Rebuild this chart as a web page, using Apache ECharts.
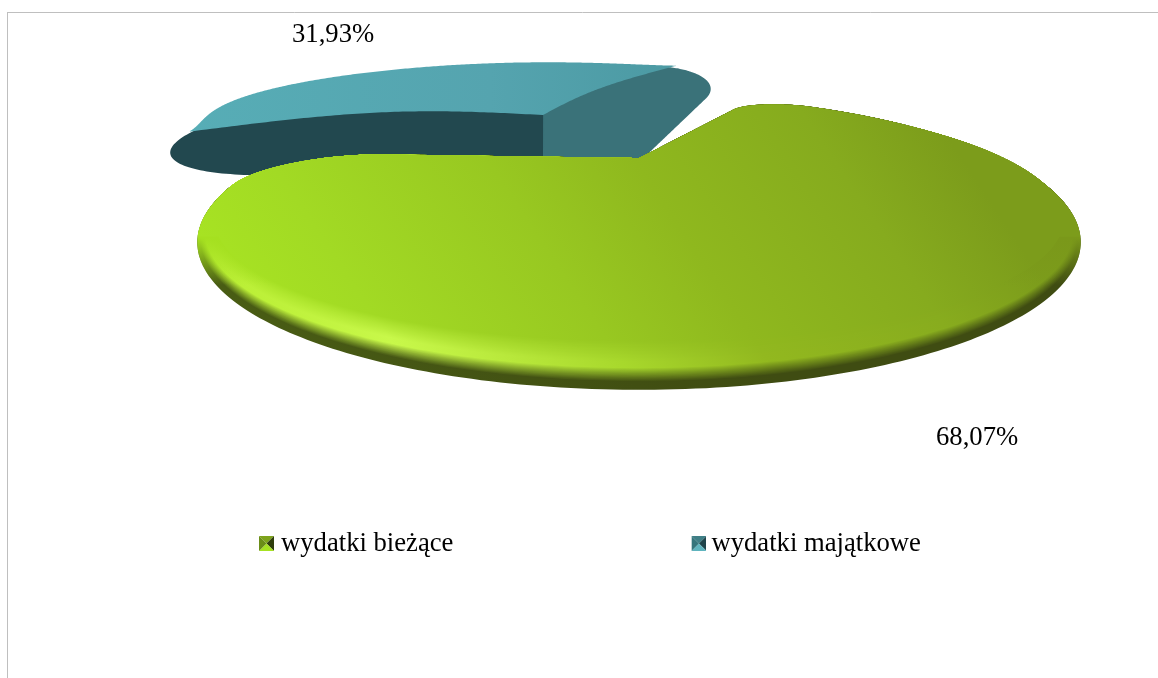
<!DOCTYPE html>
<html><head><meta charset="utf-8">
<style>html,body{margin:0;padding:0;background:#fff}#c{width:1158px;height:678px}</style>
<script src="https://cdn.jsdelivr.net/npm/echarts@6/dist/echarts.min.js"></script>
</head><body><div id="c"></div>
<script>
const categories = ['wydatki bieżące', 'wydatki majątkowe'];
const values = [68.07, 31.93];

const total = values[0] + values[1];
const firstAngle = -62;
const greenA0 = firstAngle, greenA1 = firstAngle + 360 * values[0] / total;
const blueA0 = greenA1, blueA1 = firstAngle + 360;
const rad = d => d * Math.PI / 180;
const fontFamily = '"Liberation Serif","Times New Roman",serif';

// rounded sector in the disc plane, unit radius; angles grow clockwise on screen
function outline(a0, a1, o) {
  const pts = [], r0 = o.fillet0, r1 = o.fillet1;
  const d0 = Math.sqrt((1 - r0) * (1 - r0) - r0 * r0), off0 = Math.asin(r0 / (1 - r0));
  const d1 = Math.sqrt((1 - r1) * (1 - r1) - r1 * r1), off1 = Math.asin(r1 / (1 - r1));
  const A0 = rad(a0), A1 = rad(a1), n = 80;
  pts.push([0, 0]);
  for (let i = 1; i <= n; i++) {
    const s = i / n, l = d0 * s, b = (o.bulge0 || 0) * Math.sin(Math.PI * s);
    pts.push([l * Math.cos(A0) + b * Math.cos(A0 - Math.PI / 2), l * Math.sin(A0) + b * Math.sin(A0 - Math.PI / 2)]);
  }
  const c0 = A0 + off0, c1 = A1 - off1;
  for (let i = 1; i <= n; i++) {
    const t = A0 - Math.PI / 2 + (off0 + Math.PI / 2) * i / n;
    pts.push([(1 - r0) * Math.cos(c0) + r0 * Math.cos(t), (1 - r0) * Math.sin(c0) + r0 * Math.sin(t)]);
  }
  const m = 300;
  for (let i = 1; i < m; i++) {
    const s = i / m, t = c0 + (c1 - c0) * s, q = Math.sin(Math.PI * s), R = 1 + (o.bump || 0) * Math.pow(q, 1.6);
    pts.push([R * Math.cos(t), R * Math.sin(t)]);
  }
  for (let i = 0; i <= n; i++) {
    const t = c1 + (off1 + Math.PI / 2) * i / n;
    pts.push([(1 - r1) * Math.cos(c1) + r1 * Math.cos(t), (1 - r1) * Math.sin(c1) + r1 * Math.sin(t)]);
  }
  for (let i = n - 1; i >= 1; i--) {
    const s = i / n, l = d1 * s, b = (o.bulge1 || 0) * Math.sin(Math.PI * s);
    pts.push([l * Math.cos(A1) + b * Math.cos(A1 + Math.PI / 2), l * Math.sin(A1) + b * Math.sin(A1 + Math.PI / 2)]);
  }
  return pts;
}
function project(pts, P) {
  return pts.map(([X, Y]) => {
    const w = 1 - P.k * Y;
    return [P.cx + P.A * X / w, P.cy + (P.B * Y + (P.S || 0) * X) / w];
  });
}
function lerpHex(a, b, t) {
  const pa = parseInt(a.slice(1), 16), pb = parseInt(b.slice(1), 16);
  const ch = s => Math.round(((pa >> s) & 255) * (1 - t) + ((pb >> s) & 255) * t);
  return 'rgb(' + ch(16) + ',' + ch(8) + ',' + ch(0) + ')';
}
const G = echarts.graphic.LinearGradient;
const stops = [0, .2, .45, .62, .85, 1];
const base = ['#a9e622', '#a2da24', '#98c821', '#8fb81e', '#86ab1e', '#7c9c1b'];
const high = ['#b4ea2c', '#c8f84a', '#a8d82c', '#92b81f', '#88ac1e', '#7c9c1b'];
const dark = ['#4a5e14', '#455614', '#414f12', '#3f4c12', '#3f4c12', '#3f4c12'];
const rimMax = 48;
function rimColor(i, dy) {
  if (dy >= 41) return dark[i];
  if (dy >= 28) return lerpHex(high[i], dark[i], (dy - 28) / 13);
  if (dy >= 22) return high[i];
  return lerpHex(base[i], high[i], dy / 22);
}
function gradFor(colorAt) {
  return new G(230, 360, 830, -40, stops.map((o, i) => ({ offset: o, color: colorAt(i) })), true);
}
const greenFace = { cx: 639, cy: 158, A: 365, B: 90, k: .51 };
const greenEdge = { cx: 639, cy: 158, A: 362, B: 99, k: .573 };
const blueTop = { cx: 543, cy: 115, A: 360, B: 60, S: -20, k: .3 };
const blueWallLeft = { cx: 543, cy: 157, A: 518, B: 130, S: -44, k: .4 };
const blueWallRight = { cx: 543, cy: 157, A: 480, B: 106, S: -52, k: .4 };
const blueLobe = { cx: 610, cy: 190, A: 360, B: 172, S: -20, k: .4 };

function poly(points, fill, z2) {
  return { type: 'polygon', shape: { points }, style: { fill, stroke: null }, z2 };
}
function label(val, x, y) {
  return { type: 'text', x, y, z2: 90, style: { text: val.toFixed(2).replace('.', ',') + '%', font: '26.67px ' + fontFamily, fill: '#000', textAlign: 'left', textVerticalAlign: 'middle' } };
}
function fadeFill(rgb) {
  return new G(0, 238, 0, 285, [{ offset: 0, color: 'rgba(' + rgb + ',1)' }, { offset: 1, color: 'rgba(' + rgb + ',0)' }], true);
}
function renderGreen(params, api) {
  const val = api.value(0), kids = [];
  const pts = outline(greenA0, greenA1, { fillet0: .2, fillet1: .24 });
  for (let dy = rimMax; dy >= 1; dy--) {
    const t = dy / rimMax, P = { cx: greenFace.cx, cy: greenFace.cy };
    ['A', 'B', 'k'].forEach(p => { P[p] = greenFace[p] * (1 - t) + greenEdge[p] * t; });
    kids.push(poly(project(pts, P), gradFor(i => rimColor(i, dy)), 20 + (rimMax - dy)));
  }
  const edge = project(pts, greenEdge);
  kids.push(poly(edge.filter(p => p[0] < greenEdge.cx), fadeFill('165,224,32'), 75));
  kids.push(poly(edge.filter(p => p[0] >= greenEdge.cx), fadeFill('122,152,26'), 75));
  kids.push(poly(edge.filter(p => p[1] <= 238.5), gradFor(i => base[i]), 76));
  kids.push(poly(project(pts, greenFace), gradFor(i => base[i]), 80));
  kids.push(label(val, 936, 438));
  return { type: 'group', children: kids };
}
function renderBlue(params, api) {
  const val = api.value(0);
  const wallL = outline(blueA0, blueA1, { fillet0: .40, fillet1: .2 });
  const wallR = outline(blueA0, blueA1, { fillet0: .1, fillet1: .2 });
  const lobe = outline(blueA0, blueA1, { fillet0: .1, fillet1: .25 });
  const top = outline(blueA0, blueA1, { fillet0: .005, fillet1: .005, bulge0: -.18, bulge1: -.05, bump: .35 });
  const topFill = new G(190, 0, 690, 0, [
    { offset: 0, color: '#57adb6' }, { offset: .6, color: '#55a4af' }, { offset: 1, color: '#4b99a2' }], true);
  return { type: 'group', children: [
    poly(project(wallL, blueWallLeft).filter(p => p[0] <= 548), '#22484f', 1),
    poly(project(wallR, blueWallRight).filter(p => p[0] >= 543), '#3a7279', 2),
    poly(project(lobe, blueLobe).filter(p => p[0] >= 543), '#3a7279', 2),
    poly(project(top, blueTop), topFill, 3),
    label(val, 292, 35)
  ] };
}
const icon = (t, r, b, l) => 'image://data:image/svg+xml;utf8,' + encodeURIComponent(
  '<svg xmlns="http://www.w3.org/2000/svg" width="15" height="15"><polygon points="0,0 15,0 7.5,7.5" fill="' + t + '"/><polygon points="15,0 15,15 7.5,7.5" fill="' + r + '"/><polygon points="0,15 15,15 7.5,7.5" fill="' + b + '"/><polygon points="0,0 0,15 7.5,7.5" fill="' + l + '"/></svg>');
const chart = echarts.init(document.getElementById('c'), null, { renderer: 'canvas' });
chart.setOption({
  animation: false,
  backgroundColor: '#fff',
  legend: {
    left: 259, top: 530, itemWidth: 15, itemHeight: 15, itemGap: 238, padding: 0, selectedMode: false,
    textStyle: { fontFamily, fontSize: 26.67, color: '#000' },
    data: [
      { name: categories[0], icon: icon('#7ea31c', '#2f3d0c', '#a6e222', '#6b8e18'), textStyle: { padding: [0, 0, 0, 2] } },
      { name: categories[1], icon: icon('#3f7f86', '#1f444a', '#5fb4be', '#35757c') }
    ]
  },
  graphic: [
    { type: 'line', shape: { x1: 7, y1: 12.5, x2: 1158, y2: 12.5 }, style: { stroke: '#bfbfbf', lineWidth: 1 }, silent: true },
    { type: 'line', shape: { x1: 7.5, y1: 12, x2: 7.5, y2: 678 }, style: { stroke: '#bfbfbf', lineWidth: 1 }, silent: true }
  ],
  series: [
    { type: 'custom', name: categories[1], coordinateSystem: 'none', renderItem: renderBlue, data: [[values[1]]], z: 1, silent: true },
    { type: 'custom', name: categories[0], coordinateSystem: 'none', renderItem: renderGreen, data: [[values[0]]], z: 2, silent: true }
  ]
});
</script></body></html>
